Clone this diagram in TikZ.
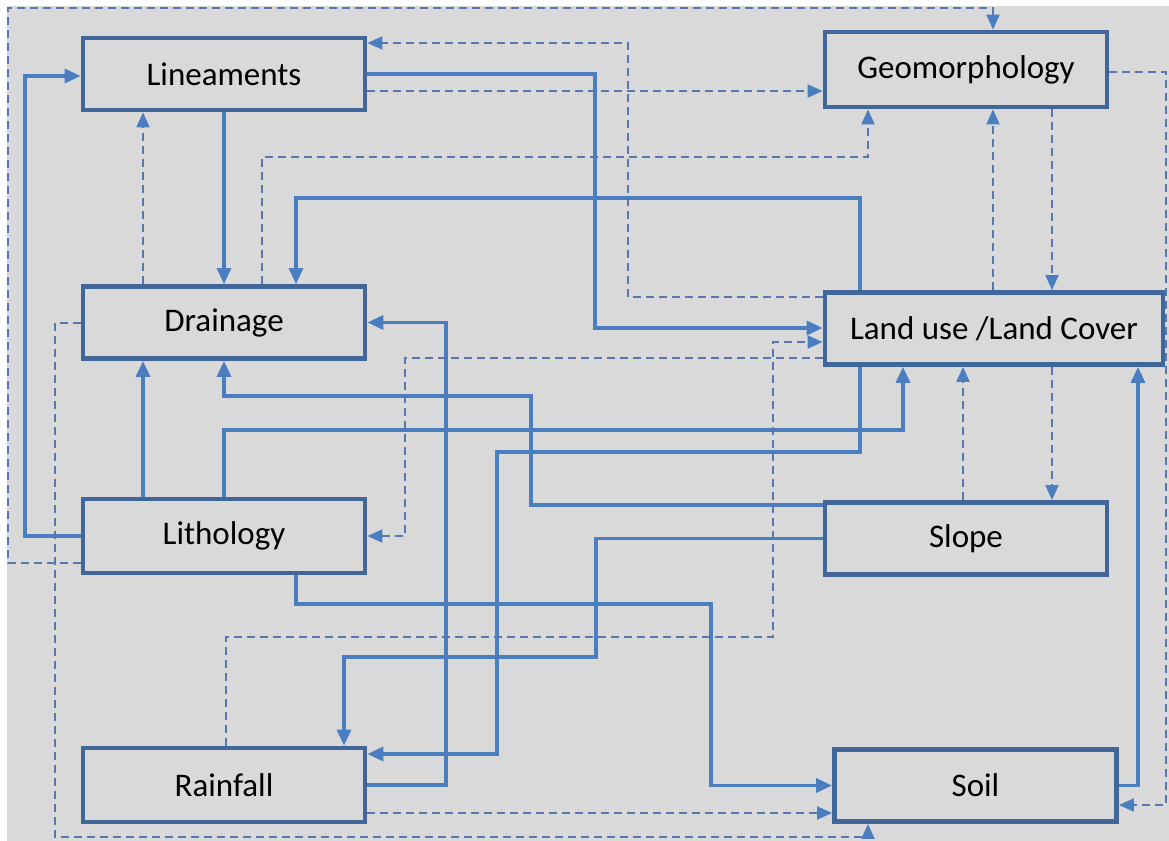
\documentclass[tikz,border=0pt]{standalone}
\usepackage{fontspec}
\setmainfont{Carlito}
\usetikzlibrary{arrows.meta,positioning}
\definecolor{boxblue}{RGB}{64,102,154}
\definecolor{lineblue}{RGB}{74,126,193}
\definecolor{dashblue}{RGB}{86,120,174}
\definecolor{panel}{RGB}{217,217,217}

\begin{document}
\begin{tikzpicture}[x=0.5pt, y=-0.5pt,
  box/.style={draw=boxblue, line width=2.4pt, fill=panel, minimum width=141pt, minimum height=36pt, font=\fontsize{16.5}{19}\selectfont},
  link/.style={draw=lineblue, line width=1.7pt, -{Triangle[length=8pt,width=7pt,fill=lineblue]}},
  dlink/.style={draw=dashblue, line width=1pt, dash pattern=on 4pt off 2.5pt, -{Triangle[length=7.5pt,width=6.5pt,color=lineblue,fill=lineblue]}}]
  \useasboundingbox (0,0) rectangle (1169,841);
  \fill[white] (0,0) rectangle (1169,841);
  \fill[panel] (7,6) rectangle (1169,841);

  \node[box] (lin) at (224,74) {Lineaments};
  \node[box, minimum height=37.5pt] (geo) at (966,69.5) {Geomorphology};
  \node[box] (dra) at (224,322.5) {Drainage};
  \node[box, minimum width=169pt] (luc) at (994,328.5) {Land use /Land Cover};
  \node[box, minimum height=37pt] (lit) at (224,536) {Lithology};
  \node[box] (slo) at (966,538.5) {Slope};
  \node[box, minimum height=37pt] (rai) at (224,785) {Rainfall};
  \node[box] (soi) at (975.5,785.5) {Soil};

  \draw[link] (lit.west) -| (25,76) -- (lin.west |- 0,76);
  \draw[link] (lin.south) -- (dra.north);
  \draw[link] (860,0 |- luc.north) |- (296,198) -- (296,0 |- dra.north);
  \draw[link] (lin.east) -| (595,328) -- (luc.west |- 0,328);
  \draw[link] (rai.east) -| (446,0 |- dra.east) -- (dra.east);
  \draw[link] (143,0 |- lit.north) -- (143,0 |- dra.south);
  \draw[link] (slo.west |- 0,505) -| (531,396) -| (dra.south);
  \draw[link] (lit.north) |- (903,430) -- (903,0 |- luc.south);
  \draw[link] (860,0 |- luc.south) |- (497,452) |- (rai.east |- 0,754);
  \draw[link] (slo.west) -| (596,657) -| (344,0 |- rai.north);
  \draw[link] (296,0 |- lit.south) |- (711,604) |- (soi.west);
  \draw[link] (soi.east) -| (1138,0 |- luc.south);

  \draw[dlink] (lit.west |- 0,563) -| (8,8) -| (993,0 |- geo.north);
  \draw[dlink] (143,0 |- dra.north) -- (143,0 |- lin.south);
  \draw[dlink] (262,0 |- dra.north) |- (868,157) -- (868,0 |- geo.south);
  \draw[dlink] (luc.west |- 0,297) -| (628,43) -- (lin.east |- 0,43);
  \draw[dlink] (lin.east |- 0,91) -- (geo.west |- 0,91);
  \draw[dlink] (geo.east |- 0,72) -| (1166,805) -- (soi.east |- 0,805);
  \draw[dlink] (993,0 |- luc.north) -- (993,0 |- geo.south);
  \draw[dlink] (1052,0 |- geo.south) -- (1052,0 |- luc.north);
  \draw[dlink] (dra.west) -| (55,837) -| (868,0 |- soi.south);
  \draw[dlink] (luc.west |- 0,358) -| (405,0 |- lit.east) -- (lit.east);
  \draw[dlink] (226,0 |- rai.north) |- (773,637) |- (luc.west |- 0,342);
  \draw[dlink] (rai.east |- 0,813) -- (soi.west |- 0,813);
  \draw[dlink] (963,0 |- slo.north) -- (963,0 |- luc.south);
  \draw[dlink] (1052,0 |- luc.south) -- (1052,0 |- slo.north);
\end{tikzpicture}
\end{document}
